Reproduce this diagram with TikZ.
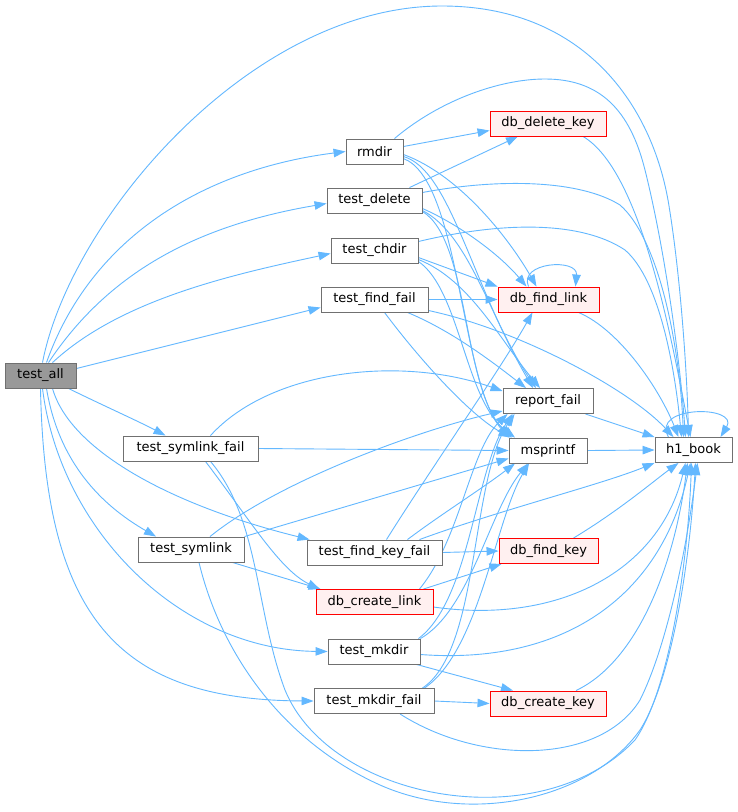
\documentclass[tikz,border=0pt]{standalone}
\usepackage{fontspec}
\setmainfont{DejaVu Sans}
\usetikzlibrary{arrows.meta}
\pgfdeclarelayer{back}
\pgfdeclarelayer{edges}
\pgfsetlayers{back,edges,main}
\definecolor{edgeblue}{HTML}{63B8FF}
\definecolor{bordergray}{HTML}{707070}
\definecolor{curfill}{HTML}{999999}
\definecolor{redfill}{HTML}{FFF0F0}
\definecolor{redline}{HTML}{FF0000}
\begin{document}
\begin{tikzpicture}[x=1pt,y=-1pt,
  fn/.style={draw=bordergray, fill=white, line width=0.9pt, inner sep=0pt, minimum height=25pt, font=\fontsize{13}{15}\selectfont, text=black},
  fnred/.style={fn, draw=redline, fill=redfill},
  fncur/.style={fn, fill=curfill},
  calls/.style={draw=edgeblue, line width=0.9pt, -{Triangle[length=12pt,width=8.5pt]}}]
\begin{pgfonlayer}{back}
\fill[white] (0,0) rectangle (737,812);
\end{pgfonlayer}
\useasboundingbox (0,0) rectangle (737,812);
% nodes
\node[fncur, minimum width=71pt] (ta) at (40.5,375.5) {test\_all};
\node[fn, minimum width=57pt] (rm) at (374.5,151.5) {rmdir};
\node[fn, minimum width=95pt] (td) at (374.5,200.5) {test\_delete};
\node[fn, minimum width=87pt] (tc) at (374.5,250.5) {test\_chdir};
\node[fn, minimum width=107pt] (tff) at (374.5,299.5) {test\_find\_fail};
\node[fn, minimum width=135pt] (tsf) at (190.5,448.5) {test\_symlink\_fail};
\node[fn, minimum width=106pt] (ts) at (191,549.5) {test\_symlink};
\node[fn, minimum width=135pt] (tfkf) at (374.5,552.5) {test\_find\_key\_fail};
\node[fnred, minimum width=117pt] (dcl) at (374.5,602) {db\_create\_link};
\node[fn, minimum width=92pt] (tm) at (374,651.5) {test\_mkdir};
\node[fn, minimum width=120pt] (tmf) at (374,701) {test\_mkdir\_fail};
\node[fnred, minimum width=116pt] (ddk) at (548,123.5) {db\_delete\_key};
\node[fnred, minimum width=101pt] (dfl) at (548.5,299.5) {db\_find\_link};
\node[fn, minimum width=90pt] (rf) at (548,401) {report\_fail};
\node[fn, minimum width=78pt] (ms) at (548,450.5) {msprintf};
\node[fnred, minimum width=99pt] (dfk) at (548.5,551) {db\_find\_key};
\node[fnred, minimum width=116pt] (dck) at (548,703.5) {db\_create\_key};
\node[fn, minimum width=77pt] (h1) at (693.5,450) {h1\_book};
\begin{pgfonlayer}{edges}
% test_all
\draw[calls] ([xshift=2pt]ta.north) .. controls (70,220) and (250,6) .. (442,6) .. controls (580,6) and (650,100) .. (668,200) .. controls (680,270) and (687,370) .. ([xshift=-5pt]h1.north);
\draw[calls] ([xshift=6pt]ta.north) .. controls (90,240) and (200,170) .. (rm.west);
\draw[calls] ([xshift=8pt]ta.north) .. controls (110,270) and (200,225) .. ([yshift=-3pt]td.west);
\draw[calls] ([xshift=12pt]ta.north) .. controls (120,300) and (230,275) .. ([yshift=-3pt]tc.west);
\draw[calls] ([yshift=7pt]ta.east) -- ([yshift=-8pt]tff.west);
\draw[calls] ([xshift=-8pt]ta.south east) .. controls (100,404) and (140,422) .. ([xshift=-25pt]tsf.north);
\draw[calls] ([xshift=12pt]ta.south) .. controls (70,450) and (170,505) .. ([xshift=3pt]tfkf.north west);
\draw[calls] ([xshift=6pt]ta.south) .. controls (60,470) and (110,510) .. ([xshift=-35pt]ts.north);
\draw[calls] ([xshift=2pt]ta.south) .. controls (60,530) and (180,650) .. (tm.west);
\draw[calls] (ta.south) .. controls (45,620) and (120,700) .. (tmf.west);
% rmdir
\draw[calls] ([yshift=5pt]rm.east) -- ([yshift=-7pt]ddk.west);
\draw[calls] ([xshift=20pt]rm.north) .. controls (440,100) and (500,79) .. (545,79) .. controls (600,79) and (630,110) .. (645,170) .. controls (665,250) and (680,360) .. ([xshift=-8pt]h1.north);
\draw[calls] ([yshift=-3pt]rm.east) .. controls (460,175) and (510,240) .. ([xshift=-12pt]dfl.north);
\draw[calls] ([yshift=-5pt]rm.east) .. controls (450,170) and (470,280) .. ([xshift=-15pt]rf.north);
\draw[calls] ([yshift=-7pt]rm.east) .. controls (460,180) and (460,380) .. (ms.north west);
% test_delete
\draw[calls] ([xshift=35pt]td.north) -- ([xshift=-30pt]ddk.south);
\draw[calls] ([yshift=8pt]td.east) .. controls (500,178) and (580,180) .. (620,205) .. controls (660,240) and (680,350) .. ([xshift=-10pt]h1.north);
\draw[calls] ([yshift=-8pt]td.east) .. controls (460,225) and (500,255) .. ([xshift=-22pt]dfl.north);
\draw[calls] ([yshift=-10pt]td.east) .. controls (470,235) and (490,320) .. ([xshift=-12pt]rf.north);
\draw[calls] ([yshift=-11pt]td.east) .. controls (470,240) and (462,390) .. ([xshift=-36pt]ms.north);
% test_chdir
\draw[calls] ([yshift=9pt]tc.east) .. controls (500,222) and (580,220) .. (625,250) .. controls (660,280) and (675,370) .. ([xshift=-12pt]h1.north);
\draw[calls] ([yshift=-7pt]tc.east) -- (dfl.north west);
\draw[calls] ([yshift=-9pt]tc.east) .. controls (470,280) and (500,340) .. ([xshift=-8pt]rf.north);
\draw[calls] ([yshift=-11pt]tc.east) .. controls (460,290) and (465,400) .. ([xshift=-33pt]ms.north);
% test_find_fail
\draw[calls] (tff.east) -- (dfl.west);
\draw[calls] ([yshift=-11pt]tff.east) .. controls (520,330) and (630,390) .. ([xshift=-20pt]h1.north);
\draw[calls] ([xshift=-21pt]tff.south east) .. controls (450,330) and (490,360) .. ([xshift=-22pt]rf.north);
\draw[calls] ([xshift=10pt]tff.south) .. controls (420,360) and (470,415) .. ([xshift=2pt]ms.north west);
% right column
\draw[calls] ([xshift=35pt]ddk.south) .. controls (640,170) and (670,330) .. ([xshift=-3pt]h1.north);
\draw[calls] ([xshift=-20pt]dfl.north) .. controls (518,262) and (578,258) .. ([xshift=27pt]dfl.north);
\draw[calls] ([xshift=30pt]dfl.south) .. controls (620,330) and (660,390) .. ([xshift=-15pt]h1.north);
\draw[calls] ([xshift=-8pt]rf.south east) -- (h1.north west);
\draw[calls] (ms.east) -- (h1.west);
\draw[calls] ([xshift=-25pt]h1.north) .. controls (650,405) and (740,405) .. ([xshift=27pt]h1.north);
% test_symlink_fail
\draw[calls] ([xshift=20pt]tsf.north) .. controls (270,370) and (400,355) .. ([yshift=10pt]rf.west);
\draw[calls] (tsf.east) -- (ms.west);
\draw[calls] ([xshift=15pt]tsf.south) .. controls (250,520) and (280,570) .. ([xshift=4pt]dcl.north west);
\draw[calls] ([xshift=20pt]tsf.south) .. controls (260,520) and (255,610) .. (285,690) .. controls (330,800) and (540,840) .. (635,740) .. controls (670,690) and (688,560) .. ([xshift=-2pt]h1.south);
% test_symlink
\draw[calls] ([xshift=8pt]ts.south) .. controls (220,650) and (280,740) .. (380,785) .. controls (470,825) and (590,800) .. (640,730) .. controls (672,680) and (690,560) .. ([xshift=2pt]h1.south);
\draw[calls] ([xshift=19pt]ts.north) .. controls (280,480) and (420,430) .. ([yshift=-10pt]rf.west);
\draw[calls] (ts.north east) -- ([yshift=-8pt]ms.west);
\draw[calls] ([xshift=-12pt]ts.south east) -- ([xshift=5pt]dcl.north west);
% test_find_key_fail
\draw[calls] (tfkf.east) -- (dfk.west);
\draw[calls] ([xshift=12pt]tfkf.north) .. controls (430,470) and (500,370) .. ([xshift=-16pt]dfl.south);
\draw[calls] ([xshift=33pt]tfkf.north) .. controls (440,515) and (480,490) .. ([xshift=-33pt]ms.south);
\draw[calls] ([xshift=45pt]tfkf.north) .. controls (500,510) and (600,485) .. (h1.south west);
% db_create_link
\draw[calls] ([xshift=-10pt]dcl.north east) -- ([xshift=3pt]dfk.south west);
\draw[calls] ([xshift=-14pt]dcl.north east) .. controls (460,540) and (470,450) .. ([xshift=5pt]rf.south west);
\draw[calls] ([yshift=-5pt]dcl.east) .. controls (560,625) and (660,570) .. ([xshift=-8pt]h1.south);
% test_mkdir
\draw[calls] ([xshift=-4pt]tm.south east) -- ([xshift=-35pt]dck.north);
\draw[calls] ([yshift=-3pt]tm.east) .. controls (560,665) and (660,600) .. ([xshift=-3pt]h1.south);
\draw[calls] ([xshift=-2pt]tm.north east) .. controls (470,600) and (475,470) .. ([xshift=10pt]rf.south west);
\draw[calls] (tm.north east) .. controls (470,610) and (490,510) .. ([xshift=-20pt]ms.south);
% test_mkdir_fail
\draw[calls] (tmf.east) -- (dck.west);
\draw[calls] ([xshift=26pt]tmf.south) .. controls (480,765) and (600,765) .. (640,700) .. controls (665,650) and (685,560) .. ([xshift=4pt]h1.south);
\draw[calls] ([xshift=-12pt]tmf.north east) .. controls (480,650) and (470,480) .. ([xshift=12pt]rf.south west);
\draw[calls] ([xshift=-10pt]tmf.north east) .. controls (480,650) and (495,520) .. ([xshift=-19pt]ms.south);
% db_find_key, db_create_key
\draw[calls] ([xshift=25pt]dfk.north) .. controls (620,510) and (655,480) .. ([xshift=-15pt]h1.south);
\draw[calls] ([xshift=28pt]dck.north) .. controls (640,660) and (675,560) .. ([xshift=-6pt]h1.south);
\end{pgfonlayer}
\end{tikzpicture}
\end{document}
